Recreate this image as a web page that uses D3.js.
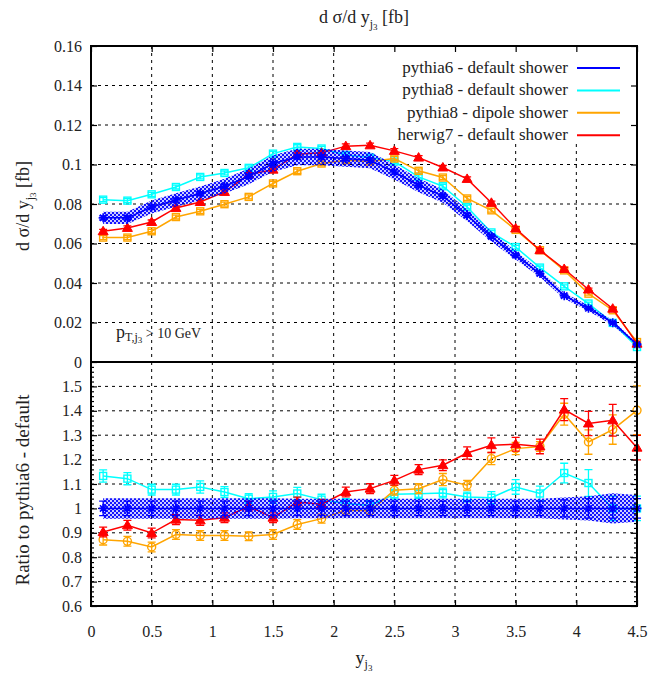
<!DOCTYPE html>
<html><head><meta charset="utf-8">
<script src="https://cdn.jsdelivr.net/npm/d3@7"></script>
<style>body{margin:0;background:#fff} text{font-family:"Liberation Serif","Times New Roman",serif;fill:#222}</style>
</head><body><svg id="c" width="662" height="678"></svg>
<script>
// ---------- data ----------
const xVals = [0.1,0.3,0.5,0.7,0.9,1.1,1.3,1.5,1.7,1.9,2.1,2.3,2.5,2.7,2.9,3.1,3.3,3.5,3.7,3.9,4.1,4.3,4.5];
const seriesNames = ["pythia6 - default shower","pythia8 - default shower","pythia8 - dipole shower","herwig7 - default shower"];
const seriesColors = ["#0000ff","#00ffff","#ffa500","#ff0000"];

const p6Top  = [0.073,0.073,0.0785,0.082,0.0853,0.089,0.094,0.1005,0.1038,0.1038,0.103,0.1022,0.0962,0.0895,0.084,0.0743,0.0635,0.054,0.0448,0.0336,0.0272,0.0199,0.0089];
const p8Top  = [0.0822,0.0817,0.0849,0.0886,0.0937,0.0957,0.0983,0.1055,0.1089,0.1081,0.1048,0.1035,0.1015,0.0937,0.089,0.0785,0.0656,0.0582,0.0478,0.0383,0.0296,0.0198,0.0076];
const dipTop = [0.063,0.063,0.0662,0.0734,0.0763,0.0799,0.0836,0.0904,0.0966,0.1005,0.1022,0.1015,0.103,0.0968,0.0934,0.0828,0.0768,0.0669,0.0566,0.0464,0.0346,0.0262,0.0101];
const h7Top  = [0.0662,0.0679,0.0709,0.078,0.081,0.0861,0.0949,0.0974,0.1052,0.1059,0.1093,0.1097,0.1069,0.1035,0.0985,0.0927,0.0806,0.0676,0.0566,0.0471,0.0367,0.027,0.0093];
const topErr = [0.0010,0.0010,0.0010,0.0010,0.0010,0.0010,0.0010,0.0011,0.0011,0.0011,0.0011,0.0011,0.0011,0.0010,0.0010,0.0010,0.0009,0.0009,0.0008,0.0008,0.0007,0.0006,0.0004];

const p6Ratio  = [1,1,1,1,1,1,1,1,1,1,1,1,1,1,1,1,1,1,1,1,1,1,1];
const p8Ratio  = [1.133,1.122,1.077,1.077,1.088,1.067,1.04,1.047,1.061,1.036,1.02,1.012,1.058,1.06,1.063,1.047,1.044,1.088,1.061,1.145,1.104,1.0,1.0];
const dipRatio = [0.872,0.865,0.842,0.893,0.889,0.889,0.886,0.893,0.934,0.958,0.992,0.99,1.074,1.081,1.118,1.095,1.204,1.245,1.254,1.386,1.272,1.323,1.402];
const h7Ratio  = [0.903,0.931,0.899,0.954,0.951,0.962,1.009,0.962,1.026,1.017,1.067,1.081,1.115,1.159,1.177,1.227,1.259,1.263,1.254,1.405,1.348,1.361,1.249];

const p6RatioErr  = [0.03,0.03,0.03,0.03,0.03,0.03,0.03,0.03,0.03,0.03,0.03,0.03,0.03,0.03,0.03,0.03,0.03,0.03,0.03,0.035,0.04,0.04,0.04];
const p8RatioErr  = [0.025,0.025,0.022,0.022,0.025,0.022,0.02,0.025,0.025,0.022,0.02,0.02,0.02,0.02,0.02,0.02,0.025,0.03,0.03,0.04,0.055,0.05,0.05];
const dipRatioErr = [0.022,0.02,0.02,0.02,0.02,0.02,0.018,0.02,0.02,0.018,0.02,0.02,0.02,0.02,0.025,0.02,0.025,0.025,0.02,0.045,0.05,0.06,0.1];
const h7RatioErr  = [0.02,0.02,0.02,0.02,0.02,0.02,0.02,0.02,0.02,0.02,0.02,0.02,0.02,0.02,0.022,0.025,0.03,0.028,0.03,0.045,0.05,0.065,0.05];
const bandRel     = [0.042,0.042,0.042,0.042,0.042,0.042,0.042,0.042,0.04,0.04,0.04,0.04,0.04,0.04,0.04,0.04,0.04,0.04,0.04,0.045,0.05,0.062,0.055];

const xTickVals = [0,0.5,1,1.5,2,2.5,3,3.5,4,4.5];
const xTickLabels = ["0","0.5","1","1.5","2","2.5","3","3.5","4","4.5"];
const topTickVals = [0,0.02,0.04,0.06,0.08,0.1,0.12,0.14,0.16];
const topTickLabels = ["0","0.02","0.04","0.06","0.08","0.1","0.12","0.14","0.16"];
const botTickVals = [0.6,0.7,0.8,0.9,1.0,1.1,1.2,1.3,1.4,1.5];
const botTickLabels = ["0.6","0.7","0.8","0.9","1","1.1","1.2","1.3","1.4","1.5"];

// ---------- layout ----------
const svg = d3.select("#c");
const L=91, R=637, T=46, M=362, B=606;
const x  = d3.scaleLinear().domain([0,4.5]).range([L,R]);
const yT = d3.scaleLinear().domain([0,0.16]).range([M,T]);
const yB = d3.scaleLinear().domain([0.6,1.6]).range([B,M]);

// pattern for band
const defs = svg.append("defs");
const pat = defs.append("pattern").attr("id","hatch").attr("patternUnits","userSpaceOnUse").attr("width",4).attr("height",4);
pat.append("rect").attr("width",4).attr("height",4).attr("fill","#0000ff").attr("fill-opacity",0.2);
pat.append("rect").attr("width",2).attr("height",2).attr("fill","#0000ff").attr("fill-opacity",0.9);
pat.append("rect").attr("x",2).attr("y",2).attr("width",2).attr("height",2).attr("fill","#0000ff").attr("fill-opacity",0.9);

// ---------- grid ----------
const grid = svg.append("g").attr("stroke","#000").attr("stroke-width",1).attr("stroke-dasharray","3,4");
xTickVals.filter(v=>v>0&&v<4.5).forEach(v=>{
  grid.append("line").attr("x1",x(v)).attr("x2",x(v)).attr("y1",T).attr("y2",M);
  grid.append("line").attr("x1",x(v)).attr("x2",x(v)).attr("y1",M).attr("y2",B);
});
topTickVals.filter(v=>v>0&&v<0.16).forEach(v=>grid.append("line").attr("x1",L).attr("x2",R).attr("y1",yT(v)).attr("y2",yT(v)));
botTickVals.filter(v=>v>0.6).forEach(v=>grid.append("line").attr("x1",L).attr("x2",R).attr("y1",yB(v)).attr("y2",yB(v)));

// legend opaque box
svg.append("rect").attr("x",369).attr("y",47).attr("width",R-369).attr("height",96).attr("fill","#fff");

// ---------- markers ----------
function marker(g, type, cx, cy, color){
  if(type==="square"){
    g.append("rect").attr("x",cx-3.5).attr("y",cy-3.5).attr("width",7).attr("height",7).attr("fill","none").attr("stroke",color).attr("stroke-width",1.4);
  } else if(type==="squaredot"){
    g.append("rect").attr("x",cx-3.5).attr("y",cy-3.5).attr("width",7).attr("height",7).attr("fill","none").attr("stroke",color).attr("stroke-width",1.4);
    g.append("circle").attr("cx",cx).attr("cy",cy).attr("r",1).attr("fill",color);
  } else if(type==="circle"){
    g.append("circle").attr("cx",cx).attr("cy",cy).attr("r",4).attr("fill","none").attr("stroke",color).attr("stroke-width",1.4);
  } else if(type==="triangle"){
    g.append("path").attr("d",`M${cx},${cy-5}L${cx+5},${cy+3.5}L${cx-5},${cy+3.5}Z`).attr("fill",color).attr("stroke",color).attr("stroke-width",1);
  } else if(type==="star"){
    const s=4.5, d=3.2;
    g.append("path").attr("d",`M${cx-s},${cy}H${cx+s}M${cx},${cy-s}V${cy+s}M${cx-d},${cy-d}L${cx+d},${cy+d}M${cx-d},${cy+d}L${cx+d},${cy-d}`)
      .attr("stroke",color).attr("stroke-width",1.6).attr("fill","none");
  }
}

function drawSeries(vals, errs, yS, color, mtype){
  const g = svg.append("g");
  const line = d3.line().x((d,i)=>x(xVals[i])).y(d=>yS(d));
  g.append("path").attr("d",line(vals)).attr("fill","none").attr("stroke",color).attr("stroke-width",1.5);
  vals.forEach((v,i)=>{
    const cx=x(xVals[i]), y1=yS(v-errs[i]), y2=yS(v+errs[i]);
    g.append("path").attr("d",`M${cx},${y1}V${y2}M${cx-4},${y1}H${cx+4}M${cx-4},${y2}H${cx+4}`).attr("stroke",color).attr("stroke-width",1.3).attr("fill","none");
    marker(g, mtype, cx, yS(v), color);
  });
}

function drawBand(lo, hi, yS){
  const area = d3.area().x((d,i)=>x(xVals[i])).y0((d,i)=>yS(lo[i])).y1((d,i)=>yS(hi[i]));
  svg.append("path").attr("d",area(lo)).attr("fill","url(#hatch)");
}

// top panel
drawSeries(p8Top, topErr, yT, seriesColors[1], "square");
drawSeries(dipTop, topErr, yT, seriesColors[2], "squaredot");
drawSeries(h7Top, topErr, yT, seriesColors[3], "triangle");
drawBand(p6Top.map((v,i)=>v*(1-bandRel[i])), p6Top.map((v,i)=>v*(1+bandRel[i])), yT);
drawSeries(p6Top, topErr, yT, seriesColors[0], "star");

// bottom panel
drawSeries(p8Ratio, p8RatioErr, yB, seriesColors[1], "square");
drawSeries(dipRatio, dipRatioErr, yB, seriesColors[2], "circle");
drawSeries(h7Ratio, h7RatioErr, yB, seriesColors[3], "triangle");
drawBand(p6Ratio.map((v,i)=>v-bandRel[i]), p6Ratio.map((v,i)=>v+bandRel[i]), yB);
drawSeries(p6Ratio, p6RatioErr, yB, seriesColors[0], "star");

// ---------- axes ----------
function styleAxis(g){ g.attr("font-family",null); g.select(".domain").remove(); g.selectAll(".tick line").attr("stroke","#000").attr("stroke-width",1.2);
  g.selectAll("text").style("font-size","16px").style("font-family","'Liberation Serif',serif").attr("fill","#222"); }

svg.append("g").attr("transform",`translate(${L},0)`)
  .call(d3.axisLeft(yT).tickValues(topTickVals).tickFormat((d,i)=>topTickLabels[i]).tickSize(-6).tickPadding(9)).call(styleAxis);
svg.append("g").attr("transform",`translate(${R},0)`)
  .call(d3.axisRight(yT).tickValues(topTickVals).tickFormat("").tickSize(-6)).call(styleAxis);
svg.append("g").attr("transform",`translate(0,${T})`)
  .call(d3.axisTop(x).tickValues(xTickVals).tickFormat("").tickSize(-6)).call(styleAxis);

svg.append("g").attr("transform",`translate(${L},0)`)
  .call(d3.axisLeft(yB).tickValues(botTickVals).tickFormat((d,i)=>botTickLabels[i]).tickSize(-6).tickPadding(9)).call(styleAxis);
svg.append("g").attr("transform",`translate(${R},0)`)
  .call(d3.axisRight(yB).tickValues(botTickVals).tickFormat("").tickSize(-6)).call(styleAxis);
const minorB = d3.range(30,81).map(v=>v/50).filter(v=>Math.abs(v*10-Math.round(v*10))>1e-6);
svg.append("g").attr("transform",`translate(${L},0)`)
  .call(d3.axisLeft(yB).tickValues(minorB).tickFormat("").tickSize(-3)).call(styleAxis);
svg.append("g").attr("transform",`translate(${R},0)`)
  .call(d3.axisRight(yB).tickValues(minorB).tickFormat("").tickSize(-3)).call(styleAxis);
svg.append("g").attr("transform",`translate(0,${B})`)
  .call(d3.axisBottom(x).tickValues(xTickVals).tickFormat((d,i)=>xTickLabels[i]).tickSize(-6).tickPadding(20)).call(styleAxis);

// borders
svg.append("rect").attr("x",L).attr("y",T).attr("width",R-L).attr("height",M-T).attr("fill","none").attr("stroke","#000").attr("stroke-width",2);
svg.append("rect").attr("x",L).attr("y",M).attr("width",R-L).attr("height",B-M).attr("fill","none").attr("stroke","#000").attr("stroke-width",2);

// ---------- legend ----------
const lg = svg.append("g");
seriesNames.forEach((n,i)=>{
  const yy = 68 + i*22.4;
  lg.append("text").attr("x",568).attr("y",yy+5).attr("text-anchor","end").style("font-size","17px").text(n);
  lg.append("line").attr("x1",577).attr("x2",620).attr("y1",yy).attr("y2",yy).attr("stroke",seriesColors[i]).attr("stroke-width",2);
});

// ---------- labels ----------
function subLabel(g, size){
  g.append("tspan").style("font-size",size+"px").text("d σ/d y");
  g.append("tspan").style("font-size",(size*0.65)+"px").attr("dy",size*0.25).text("j");
  g.append("tspan").style("font-size",(size*0.5)+"px").attr("dy",size*0.15).text("3");
  g.append("tspan").style("font-size",size+"px").attr("dy",-size*0.4).text(" [fb]");
}
subLabel(svg.append("text").attr("x",(L+R)/2).attr("y",23).attr("text-anchor","middle"), 18);
subLabel(svg.append("text").attr("transform",`translate(29,${(T+M)/2+2}) rotate(-90)`).attr("text-anchor","middle"), 18);
svg.append("text").attr("transform",`translate(29,${(M+B)/2+6}) rotate(-90)`).attr("text-anchor","middle").style("font-size","19px").text("Ratio to pythia6 - default");

const xl = svg.append("text").attr("x",(L+R)/2).attr("y",664).attr("text-anchor","middle");
xl.append("tspan").style("font-size","18px").text("y");
xl.append("tspan").style("font-size","12px").attr("dy",4).text("j");
xl.append("tspan").style("font-size","9px").attr("dy",3).text("3");

const pt = svg.append("text").attr("x",116).attr("y",338);
pt.append("tspan").style("font-size","18px").text("p");
pt.append("tspan").style("font-size","12px").attr("dy",3).text("T,j");
pt.append("tspan").style("font-size","9px").attr("dy",2).text("3");
pt.append("tspan").style("font-size","14px").attr("dy",-5).text(" > 10 GeV");
</script></body></html>
